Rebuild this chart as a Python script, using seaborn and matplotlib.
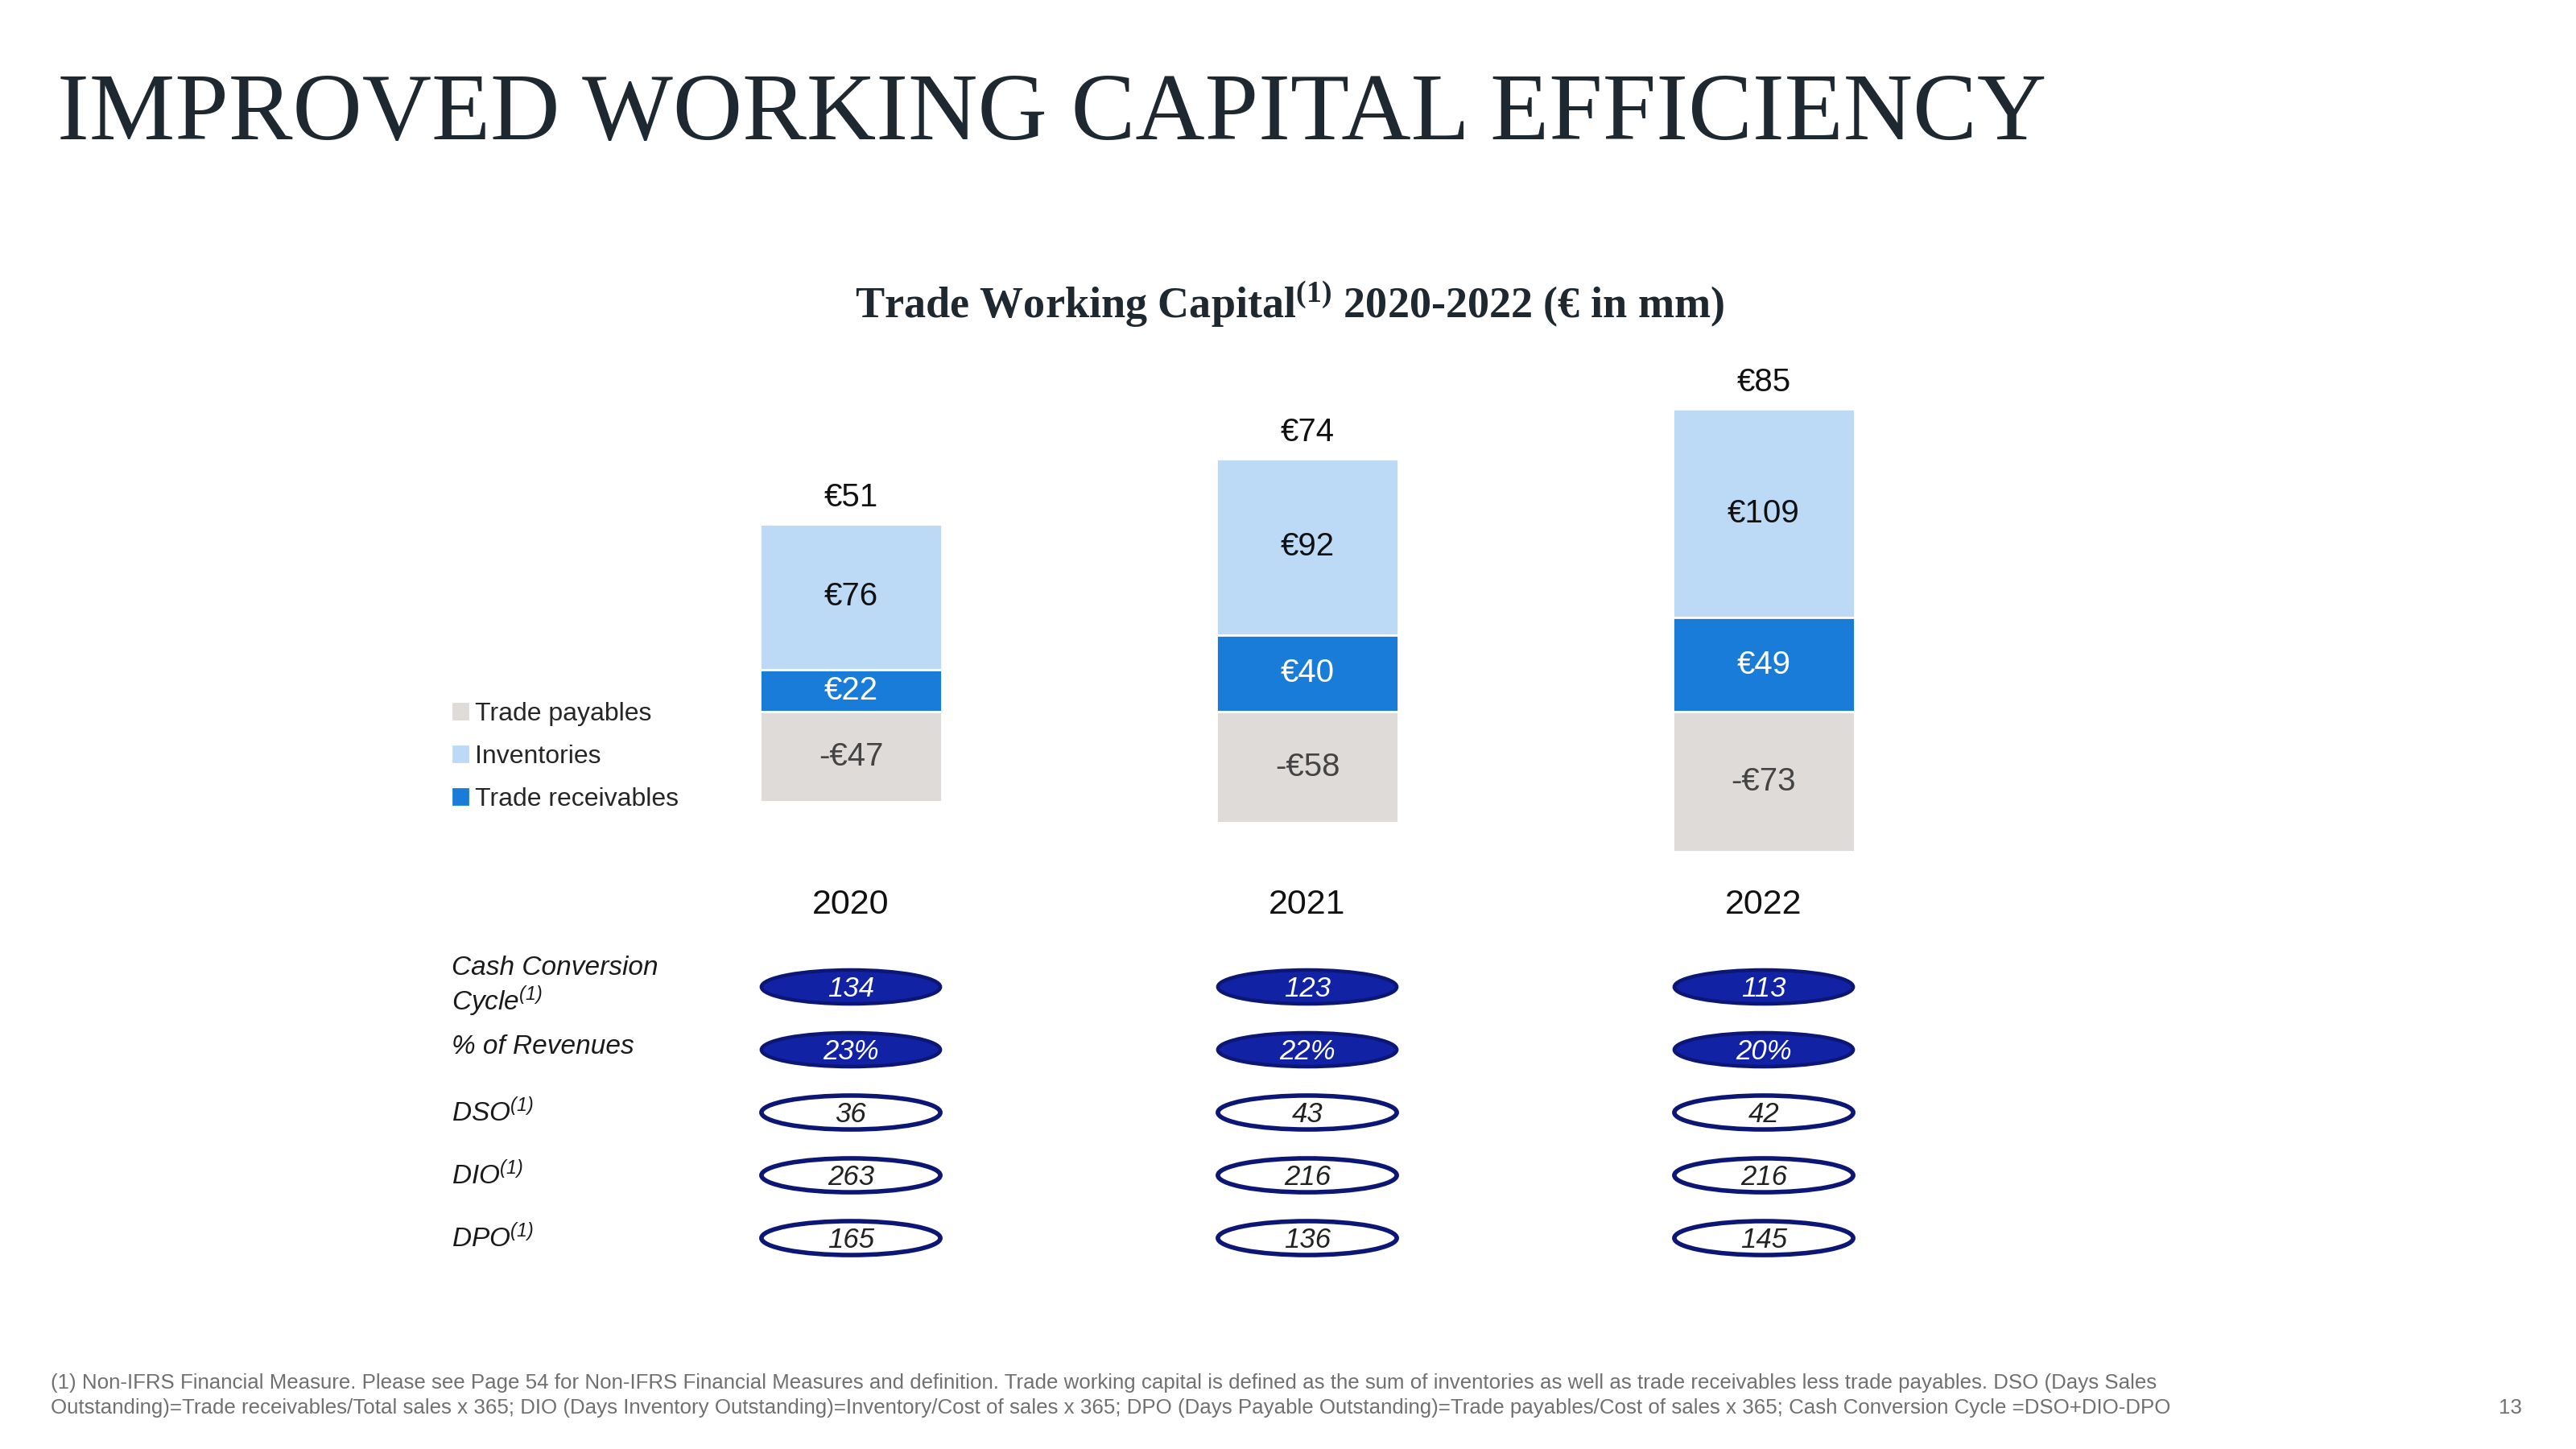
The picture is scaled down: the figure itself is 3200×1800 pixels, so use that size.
import matplotlib
matplotlib.use("Agg")
import matplotlib.pyplot as plt
import matplotlib.transforms as mtransforms
from matplotlib.patches import Ellipse, Patch
import pandas as pd
import seaborn as sns

# DONNEES
years = ["2020", "2021", "2022"]
receivables = [22, 40, 49]
inventories = [76, 92, 109]
payables = [-47, -58, -73]
totals = [51, 74, 85]

row_labels = ["Cash Conversion\nCycle$^{\\mathregular{(1)}}$",
              "% of Revenues",
              "DSO$^{\\mathregular{(1)}}$",
              "DIO$^{\\mathregular{(1)}}$",
              "DPO$^{\\mathregular{(1)}}$"]
ccc = ["134", "123", "113"]
pct_revenues = ["23%", "22%", "20%"]
dso = ["36", "43", "42"]
dio = ["263", "216", "216"]
dpo = ["165", "136", "145"]

footnote_1 = ("(1) Non-IFRS Financial Measure. Please see Page 54 for Non-IFRS Financial Measures and definition. "
              "Trade working capital is defined as the sum of inventories as well as trade receivables less trade payables. DSO (Days Sales")
footnote_2 = ("Outstanding)=Trade receivables/Total sales x 365; DIO (Days Inventory Outstanding)=Inventory/Cost of sales x 365; "
              "DPO (Days Payable Outstanding)=Trade payables/Cost of sales x 365; Cash Conversion Cycle =DSO+DIO-DPO")

# couleurs
REC = "#1a7cd9"
INV = "#bcdaf6"
PAY = "#dfdbd9"
NAVY = "#1222a4"
NAVY_EDGE = "#0b1675"
TITLE_C = "#1d2830"

sns.set_theme(style="white")
plt.rcParams["font.family"] = ["Liberation Sans", "DejaVu Sans"]
plt.rcParams["mathtext.fontset"] = "custom"
plt.rcParams["mathtext.rm"] = "Liberation Sans"
plt.rcParams["mathtext.it"] = "Liberation Sans:italic"

W, H = 3200, 1800
fig = plt.figure(figsize=(16, 9), dpi=200)
fig.patch.set_facecolor("white")

def fx(px):
    return px / W

def fy(py):
    return 1 - py / H

# titres
fig.text(fx(71), fy(173), "IMPROVED WORKING CAPITAL EFFICIENCY", family=["Liberation Serif", "DejaVu Serif"],
         fontsize=43, color=TITLE_C, ha="left", va="baseline")
fig.text(fx(1602), fy(378), "Trade Working Capital$^{\\mathregular{(1)}}$ 2020-2022 (€ in mm)",
         family=["Liberation Serif", "DejaVu Serif"], fontsize=19.5, weight="bold", color=TITLE_C,
         ha="center", va="center")

# BARRES EMPILEES
df = pd.DataFrame({"year": years, "rec": receivables, "inv": inventories, "pay": payables, "total": totals})
df["rec_inv"] = df["rec"] + df["inv"]

ax = fig.add_axes([fx(773.5), fy(1090), fx(1701), (1090 - 430) / H])
sns.barplot(data=df, x="year", y="rec_inv", color=INV, width=0.4, saturation=1, errorbar=None, ax=ax)
sns.barplot(data=df, x="year", y="rec", color=REC, width=0.4, saturation=1, errorbar=None, ax=ax)
sns.barplot(data=df, x="year", y="pay", color=PAY, width=0.4, saturation=1, errorbar=None, ax=ax)
ax.set_xlim(-0.5, 2.5)
ax.set_ylim(-86.6, 190.8)
ax.set_xlabel("")
ax.set_ylabel("")
ax.set_xticks([])
ax.set_yticks([])
sns.despine(ax=ax, left=True, bottom=True)
ax.set_facecolor("none")

for i, r in df.iterrows():
    ax.text(i, r["rec"] / 2, f"€{r['rec']}", ha="center", va="center", fontsize=14.5, color="white")
    ax.text(i, r["rec"] + r["inv"] / 2, f"€{r['inv']}", ha="center", va="center", fontsize=14.5, color="#111111")
    ax.text(i, r["pay"] / 2, f"-€{-r['pay']}", ha="center", va="center", fontsize=14.5, color="#444444")
    ax.annotate(f"€{r['total']}", (i, r["rec_inv"]), xytext=(0, 5), textcoords="offset points",
                ha="center", va="bottom", fontsize=14.5, color="#111111")

year_tr = mtransforms.blended_transform_factory(ax.transData, fig.transFigure)
for i, y in enumerate(years):
    ax.text(i, fy(1124), y, transform=year_tr, ha="center", va="center", fontsize=15.5, color="#111111")

# legende
handles = [Patch(color=PAY, label="Trade payables"),
           Patch(color=INV, label="Inventories"),
           Patch(color=REC, label="Trade receivables")]
fig.legend(handles=handles, loc="upper left", bbox_to_anchor=(fx(563), fy(872)), frameon=False,
           fontsize=11.5, handlelength=0.55, handleheight=0.55, handletextpad=0.3,
           labelspacing=0.72, borderpad=0, borderaxespad=0)

# TABLEAU DES INDICATEURS
tax = fig.add_axes([fx(773.5), fy(1577), fx(1701), 390 / H])
tax.set_xlim(-0.5, 2.5)
tax.set_ylim(4.5, -0.5)
tax.axis("off")

rows = [(ccc, True), (pct_revenues, True), (dso, False), (dio, False), (dpo, False)]
for r, (vals, filled) in enumerate(rows):
    for i, v in enumerate(vals):
        if filled:
            tax.add_patch(Ellipse((i, r), 0.392, 0.54, facecolor=NAVY, edgecolor=NAVY_EDGE, lw=1.6))
            tax.text(i, r + 0.03, v, ha="center", va="center", fontsize=12.5, style="italic", color="white")
        else:
            tax.add_patch(Ellipse((i, r), 0.392, 0.54, facecolor="white", edgecolor=NAVY_EDGE, lw=2))
            tax.text(i, r + 0.03, v, ha="center", va="center", fontsize=12.5, style="italic", color="#222222")

lab_tr = mtransforms.blended_transform_factory(fig.transFigure, tax.transData)
for r, lab in enumerate(row_labels):
    tax.text(fx(561), r - (0.05 if r == 1 else 0), lab, transform=lab_tr, ha="left", va="center",
             fontsize=12, style="italic", color="#1a1a1a", linespacing=1.15)

# notes
fig.text(fx(63), fy(1718), footnote_1, fontsize=9.3, color="#707070", ha="left", va="center")
fig.text(fx(63), fy(1749), footnote_2, fontsize=9.3, color="#707070", ha="left", va="center")
fig.text(fx(3104), fy(1749), "13", fontsize=9.3, color="#707070", ha="left", va="center")

fig.savefig("out.png", dpi=200, facecolor="white")
